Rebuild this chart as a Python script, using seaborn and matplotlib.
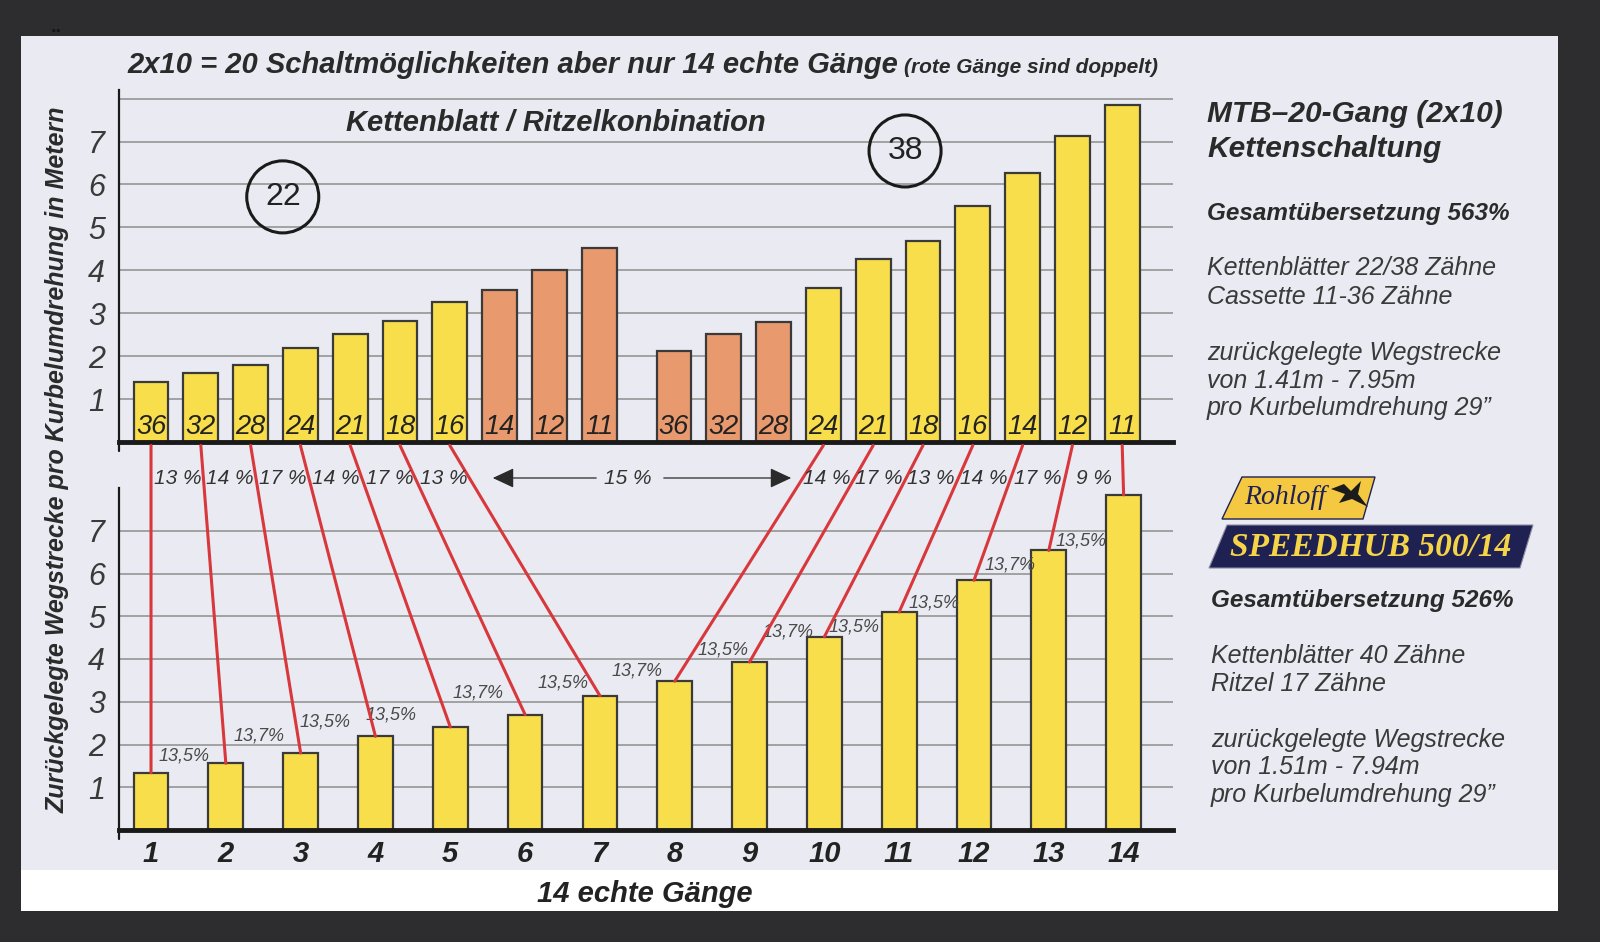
import matplotlib
matplotlib.use("Agg")
import matplotlib.pyplot as plt
import seaborn as sns
import pandas as pd
from matplotlib import font_manager
from matplotlib.patches import ConnectionPatch, Rectangle, Polygon, Ellipse, FancyArrowPatch

# ---------------- data ----------------
chainrings = [22, 38]
cassette_teeth = [36, 32, 28, 24, 21, 18, 16, 14, 12, 11]
dist_ring22 = [1.39, 1.61, 1.80, 2.20, 2.51, 2.82, 3.27, 3.53, 4.00, 4.53]
dist_ring38 = [2.13, 2.51, 2.80, 3.58, 4.26, 4.68, 5.49, 6.27, 7.13, 7.85]
status_ring22 = ["echt", "echt", "echt", "echt", "echt", "echt", "echt",
                 "doppelt", "doppelt", "doppelt"]
status_ring38 = ["doppelt", "doppelt", "doppelt", "echt", "echt", "echt", "echt",
                 "echt", "echt", "echt"]
gear_numbers = [1, 2, 3, 4, 5, 6, 7, 8, 9, 10, 11, 12, 13, 14]
speedhub_dist = [1.34, 1.56, 1.80, 2.19, 2.41, 2.70, 3.14, 3.48, 3.93, 4.52,
                 5.10, 5.84, 6.54, 7.84]
chain_steps_left = ["13 %", "14 %", "17 %", "14 %", "17 %", "13 %"]
chain_step_cross = "15 %"
chain_steps_right = ["14 %", "17 %", "13 %", "14 %", "17 %", "9 %"]
hub_steps = ["13,5%", "13,7%", "13,5%", "13,5%", "13,7%", "13,5%", "13,7%",
             "13,5%", "13,7%", "13,5%", "13,5%", "13,7%", "13,5%"]
y_ticks = [1, 2, 3, 4, 5, 6, 7]

# ---------------- layout constants ----------------
W, H = 1600, 942
pos_ring22 = [i for i in range(10)]
pos_ring38 = [i + 10.5 for i in range(10)]
hub_label_x = [1.44, 2.44, 3.32, 4.21, 5.37, 6.51, 7.49, 8.65, 9.51, 10.39, 11.47, 12.48, 13.43]
hub_label_y = [1.74, 2.20, 2.52, 2.68, 3.21, 3.44, 3.73, 4.20, 4.63, 4.75, 5.31, 6.21, 6.76]

YELLOW = "#f9de4b"
ORANGE = "#e8996e"
EDGE = "#3a3a3a"
RED = "#d8383b"
PANEL = "#eaeaf2"
DARK = "#2d2d30"
NAVY = "#1f2152"

sns.set_theme(style="white")
plt.rcParams["font.family"] = ["Liberation Sans", "DejaVu Sans"]

names = {f.name for f in font_manager.fontManager.ttflist}
HAS_NARROW = "Liberation Sans Narrow" in names
NARROW = ["Liberation Sans Narrow", "Liberation Sans", "DejaVu Sans"] if HAS_NARROW else ["Liberation Sans", "DejaVu Sans"]
NS = 1.2 if HAS_NARROW else 1.0


def fx(px):
    return px / W


def fy(py):
    return 1 - py / H


fig = plt.figure(figsize=(16, 9.42), dpi=100)
fig.patch.set_facecolor(DARK)
fig.add_artist(Rectangle((fx(21), fy(870)), fx(1558) - fx(21), fy(36) - fy(870),
                         transform=fig.transFigure, facecolor=PANEL, edgecolor="none", zorder=-10))
fig.add_artist(Rectangle((fx(21), fy(911)), fx(1558) - fx(21), fy(870) - fy(911),
                         transform=fig.transFigure, facecolor="white", edgecolor="none", zorder=-10))

ax_up = fig.add_axes([fx(119), fy(442), fx(1173) - fx(119), fy(90) - fy(442)])
ax_lo = fig.add_axes([fx(119), fy(830), fx(1173) - fx(119), fy(488) - fy(830)])

# ---------------- upper chart ----------------
df_up = pd.DataFrame({
    "pos": pos_ring22 + pos_ring38,
    "dist": dist_ring22 + dist_ring38,
    "status": status_ring22 + status_ring38,
    "teeth": cassette_teeth + cassette_teeth,
})
sns.barplot(data=df_up, x="pos", y="dist", hue="status",
            palette={"echt": YELLOW, "doppelt": ORANGE},
            native_scale=True, dodge=False, width=0.7, saturation=1,
            edgecolor=EDGE, linewidth=1.6, errorbar=None, legend=False, ax=ax_up)

# ---------------- lower chart ----------------
df_lo = pd.DataFrame({"gang": gear_numbers, "dist": speedhub_dist})
sns.barplot(data=df_lo, x="gang", y="dist", native_scale=True, color=YELLOW,
            width=0.464, saturation=1, edgecolor=EDGE, linewidth=1.6,
            errorbar=None, ax=ax_lo)

for ax in (ax_up, ax_lo):
    ax.set_facecolor("none")
    ax.set_axisbelow(True)
    ax.yaxis.grid(True, color="#9c9c9c", linewidth=1.3)
    ax.xaxis.grid(False)
    for s in ("top", "right"):
        ax.spines[s].set_visible(False)
    ax.spines["left"].set_color("#1a1a1a")
    ax.spines["left"].set_linewidth(1.6)
    ax.spines["bottom"].set_color("#1a1a1a")
    ax.spines["bottom"].set_linewidth(3.5)
    ax.set_xlabel("")
    ax.set_ylabel("")
    ax.tick_params(axis="y", length=4, width=1, color="#8a8a8a", pad=6)
    ax.plot([0, 0], [-0.025, 0], transform=ax.transAxes, color="#1a1a1a",
            lw=1.6, clip_on=False)

ax_up.set_xlim(-0.643, 20.52)
ax_up.set_ylim(0, 8.2)
ax_up.set_yticks(y_ticks + [8])
ax_up.set_yticklabels([str(t) for t in y_ticks] + [""], fontsize=22,
                      fontstyle="italic", color="#3a3a3a")
ax_up.set_xticks([])

ax_lo.set_xlim(0.572, 14.66)
ax_lo.set_ylim(0, 8.0)
ax_lo.set_yticks(y_ticks)
ax_lo.set_yticklabels([str(t) for t in y_ticks], fontsize=22,
                      fontstyle="italic", color="#3a3a3a")
ax_lo.set_xticks(gear_numbers)
ax_lo.set_xticklabels([str(g) for g in gear_numbers], fontsize=21 * NS,
                      fontweight="bold", fontstyle="italic", color="#222222",
                      family=NARROW)
ax_lo.tick_params(axis="x", length=0, pad=7)

# cassette labels inside bars
for p, t in zip(df_up["pos"], df_up["teeth"]):
    ax_up.text(p, 0.36, str(t), ha="center", va="center", fontsize=19.5,
               fontstyle="italic", color="#222222", zorder=5)

# chainring circles
for (cx, cy), ring in zip([(2.645, 5.71), (15.14, 6.78)], chainrings):
    ax_up.add_patch(Ellipse((cx, cy), 72 / 49.8, 72 / 42.9, fill=False,
                            edgecolor="#1a1a1a", linewidth=2.2, zorder=5))
    ax_up.text(cx, cy, str(ring), ha="center", va="center", fontsize=23,
               color="#222222", zorder=6)

ax_up.text(8.13, 7.42, "Kettenblatt / Ritzelkonbination", ha="center", va="center",
           fontsize=21, fontweight="bold", fontstyle="italic", color="#2a2a2a")

# lower step labels
for x, y, lab in zip(hub_label_x, hub_label_y, hub_steps):
    ax_lo.text(x, y, lab, ha="center", va="center", fontsize=13 * NS,
               fontstyle="italic", color="#4a4a4a", family=NARROW)

# ---------------- connection lines ----------------
real_up = [p for p, s in zip(df_up["pos"], df_up["status"]) if s == "echt"]
lines = list(zip(real_up, gear_numbers, speedhub_dist))
for xu, g, v in lines:
    con = ConnectionPatch(xyA=(xu, -0.08), coordsA=ax_up.transData,
                          xyB=(g, v), coordsB=ax_lo.transData,
                          color=RED, linewidth=2.2, zorder=3)
    fig.add_artist(con)

y_mid = H - 478


def line_x_at(xu, g, v, yd):
    a = ax_up.transData.transform((xu, 0))
    b = ax_lo.transData.transform((g, v))
    t = (a[1] - yd) / (a[1] - b[1])
    return a[0] + (b[0] - a[0]) * t


xs = [line_x_at(xu, g, v, y_mid) for xu, g, v in lines]
for i, lab in enumerate(chain_steps_left):
    xm = (xs[i] + xs[i + 1]) / 2
    fig.text(xm / W, y_mid / H, lab, ha="center", va="center", fontsize=15 * NS,
             fontstyle="italic", color="#333333", family=NARROW)
for i, lab in enumerate(chain_steps_right):
    xm = (xs[7 + i] + xs[8 + i]) / 2
    fig.text(xm / W, y_mid / H, lab, ha="center", va="center", fontsize=15 * NS,
             fontstyle="italic", color="#333333", family=NARROW)

fig.text(fx(628), y_mid / H, chain_step_cross, ha="center", va="center",
         fontsize=15 * NS, fontstyle="italic", color="#333333", family=NARROW)
for a, b in [((599, 478), (490, 478)), ((661, 478), (794, 478))]:
    fig.add_artist(FancyArrowPatch((fx(a[0]), fy(a[1])), (fx(b[0]), fy(b[1])),
                                   transform=fig.transFigure,
                                   arrowstyle="-|>,head_length=0.6,head_width=0.28",
                                   mutation_scale=22, color="#2a2a2a", linewidth=0.9))

# ---------------- titles ----------------
t1 = fig.text(fx(127), fy(73), "2x10 = 20 Schaltmöglichkeiten aber nur 14 echte Gänge",
              ha="left", va="baseline", fontsize=21, fontweight="bold",
              fontstyle="italic", color="#2a2a2a")
r = fig.canvas.get_renderer()
bb = t1.get_window_extent(renderer=r)
fig.text((bb.x1 + 6) / W, fy(73), "(rote Gänge sind doppelt)", ha="left", va="baseline",
         fontsize=15, fontweight="bold", fontstyle="italic", color="#2a2a2a")

fig.text(fx(58), fy(460), "Zurückgelegte Wegstrecke pro Kurbelumdrehung in Metern",
         rotation=90, ha="center", va="center", fontsize=18, fontweight="bold",
         fontstyle="italic", color="#2a2a2a")

fig.text(fx(645), fy(894), "14 echte Gänge", ha="center", va="center",
         fontsize=21 * NS, fontweight="bold", fontstyle="italic", color="#222222",
         family=NARROW)

fig.text(fx(56), fy(27), "..", ha="center", va="center", fontsize=14,
         fontweight="bold", color="#141414")

# ---------------- right panel ----------------
BOLD_C = "#2a2a2a"
REG_C = "#3a3a3a"
fig.text(fx(1207), fy(114), "MTB–20-Gang (2x10)", ha="left", va="center",
         fontsize=21.5, fontweight="bold", fontstyle="italic", color=BOLD_C)
fig.text(fx(1207), fy(149), "Kettenschaltung", ha="left", va="center",
         fontsize=21.5, fontweight="bold", fontstyle="italic", color=BOLD_C)
fig.text(fx(1207), fy(213), "Gesamtübersetzung 563%", ha="left", va="center",
         fontsize=17.5, fontweight="bold", fontstyle="italic", color=BOLD_C)
for txt, yy in [("Kettenblätter 22/38 Zähne", 268), ("Cassette 11-36 Zähne", 297),
                ("zurückgelegte Wegstrecke", 353), ("von 1.41m - 7.95m", 381),
                ("pro Kurbelumdrehung 29”", 408)]:
    fig.text(fx(1207), fy(yy), txt, ha="left", va="center", fontsize=18,
             fontstyle="italic", color=REG_C)

fig.text(fx(1211), fy(600), "Gesamtübersetzung 526%", ha="left", va="center",
         fontsize=17.5, fontweight="bold", fontstyle="italic", color=BOLD_C)
for txt, yy in [("Kettenblätter 40 Zähne", 656), ("Ritzel 17 Zähne", 684),
                ("zurückgelegte Wegstrecke", 740), ("von 1.51m - 7.94m", 767),
                ("pro Kurbelumdrehung 29”", 795)]:
    fig.text(fx(1211), fy(yy), txt, ha="left", va="center", fontsize=18,
             fontstyle="italic", color=REG_C)

# logo
yellow_poly = [(1242, 477), (1375, 477), (1363, 519), (1222, 519)]
navy_poly = [(1227, 525), (1533, 525), (1520, 568), (1209, 568)]
fig.add_artist(Polygon([(fx(a), fy(b)) for a, b in yellow_poly], closed=True,
                       transform=fig.transFigure, facecolor="#f5c842",
                       edgecolor=NAVY, linewidth=1.0))
fig.add_artist(Polygon([(fx(a), fy(b)) for a, b in navy_poly], closed=True,
                       transform=fig.transFigure, facecolor=NAVY,
                       edgecolor="#8a8aa0", linewidth=0.8))
bird = [(1331, 489), (1344, 484), (1351, 491), (1361, 481), (1358, 494),
        (1368, 507), (1352, 499), (1339, 503), (1345, 494)]
fig.add_artist(Polygon([(fx(a), fy(b)) for a, b in bird], closed=True,
                       transform=fig.transFigure, facecolor="#1b1b1b", edgecolor="none"))
fig.text(fx(1285), fy(497), "Rohloff", ha="center", va="center", fontsize=20,
         fontstyle="italic", family=["Liberation Serif", "DejaVu Serif"], color=NAVY)
fig.text(fx(1371), fy(547), "SPEEDHUB 500/14", ha="center", va="center", fontsize=24,
         fontweight="bold", fontstyle="italic", family=["Liberation Serif", "DejaVu Serif"],
         color="#f6d447")

fig.savefig("out.png", dpi=100, facecolor=fig.get_facecolor())
